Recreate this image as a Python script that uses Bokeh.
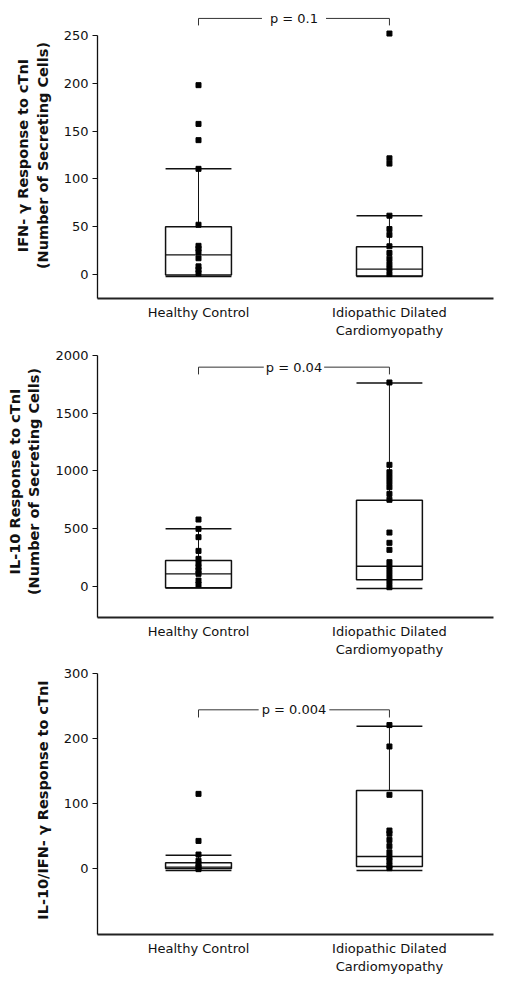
from bokeh.plotting import figure
from bokeh.layouts import column
from bokeh.models import Range1d, FixedTicker, Label
from bokeh.embed import file_html
from bokeh.resources import INLINE

groups = ["Healthy Control", "Idiopathic Dilated\nCardiomyopathy"]

# Panel 1: IFN-gamma response (number of secreting cells)
ifn_lo = [-2, -2]
ifn_q1 = [-0.5, -1.5]
ifn_med = [20.5, 5.6]
ifn_q3 = [50, 29]
ifn_hi = [110.5, 61.5]
ifn_pts_hc = [198, 157.5, 140.5, 110.5, 52, 30, 27, 23.5, 17, 8.5, 5, 1.5]
ifn_pts_idc = [252, 121.5, 116, 61.5, 47.5, 41.5, 29.5, 22.5, 16.5, 11, 6, 0.5]
ifn_ticks = [0, 50, 100, 150, 200, 250]
ifn_p = "p = 0.1"

# Panel 2: IL-10 response (number of secreting cells)
il10_lo = [-16, -20]
il10_q1 = [-14, 55]
il10_med = [107, 173]
il10_q3 = [222, 745]
il10_hi = [497, 1762]
il10_pts_hc = [578, 497, 425, 306, 237, 199, 165, 136, 107, 49, 14]
il10_pts_idc = [1766, 1052, 988, 945, 902, 858, 800, 749, 465, 376, 315,
                208, 165, 121, 78, 35, -9]
il10_ticks = [0, 500, 1000, 1500, 2000]
il10_p = "p = 0.04"

# Panel 3: IL-10 / IFN-gamma ratio
ratio_lo = [-3, -3]
ratio_q1 = [0, 3]
ratio_med = [2, 18.5]
ratio_q3 = [9, 120]
ratio_hi = [20.5, 219]
ratio_pts_hc = [115, 42.5, 21.5, 12, 7, 2, -1]
ratio_pts_idc = [221, 188, 113.5, 58.5, 53.5, 44, 34.5, 25, 17.5, 11.5, 4.5, 0.5]
ratio_ticks = [0, 100, 200, 300]
ratio_p = "p = 0.004"

FONT = "DejaVu Sans"
INK = "#111111"
BOX_W = 0.345


def make_panel(title, lo, q1, med, q3, hi, pts, ticks, ptext, yr, height,
               btop, bbot, bracket_y, bracket_leg, pad):
    xs = list(range(len(groups)))
    p = figure(width=498, height=height, output_backend="svg",
               toolbar_location=None, x_range=Range1d(-0.529, 1.545),
               y_range=Range1d(*yr), min_border_left=97, min_border_right=5,
               min_border_top=btop, min_border_bottom=bbot)
    p.outline_line_color = None
    p.xgrid.visible = False
    p.ygrid.visible = False
    p.background_fill_color = "white"
    p.border_fill_color = "white"

    # y axis
    yax = p.yaxis[0]
    yax.ticker = FixedTicker(ticks=ticks)
    yax.bounds = (yr[0], ticks[-1])
    yax.major_tick_out = 5
    yax.major_tick_in = 0
    yax.minor_tick_line_color = None
    yax.axis_line_width = 1.3
    yax.axis_line_color = INK
    yax.major_tick_line_color = INK
    yax.major_label_text_font = FONT
    yax.major_label_text_font_size = "13px"
    yax.major_label_text_color = INK
    yax.major_label_standoff = 4
    yax.axis_label = title
    yax.axis_label_text_font = FONT
    yax.axis_label_text_font_size = "14.5px"
    yax.axis_label_text_font_style = "bold"
    yax.axis_label_text_color = INK
    yax.axis_label_standoff = 10

    # x axis
    xax = p.xaxis[0]
    xax.ticker = FixedTicker(ticks=xs)
    xax.major_label_overrides = {x: g for x, g in zip(xs, groups)}
    xax.major_tick_line_color = None
    xax.major_tick_out = 0
    xax.major_tick_in = 0
    xax.minor_tick_line_color = None
    xax.minor_tick_out = 0
    xax.axis_line_width = 2
    xax.axis_line_color = "#222222"
    xax.major_label_text_font = FONT
    xax.major_label_text_font_size = "13px"
    xax.major_label_text_color = INK
    xax.major_label_standoff = 6

    left = [x - BOX_W / 2 for x in xs]
    right = [x + BOX_W / 2 for x in xs]

    # whiskers
    p.segment(x0=xs, y0=q3, x1=xs, y1=hi, line_color=INK, line_width=1)
    p.segment(x0=xs, y0=lo, x1=xs, y1=q1, line_color=INK, line_width=1)
    p.segment(x0=left, y0=hi, x1=right, y1=hi, line_color=INK, line_width=1.5)
    p.segment(x0=left, y0=lo, x1=right, y1=lo, line_color=INK, line_width=1.5)
    # boxes
    p.quad(left=left, right=right, bottom=q1, top=q3, fill_color=None,
           line_color=INK, line_width=1.5)
    p.segment(x0=left, y0=med, x1=right, y1=med, line_color=INK, line_width=1.3)

    # points
    for x, vals in zip(xs, pts):
        p.scatter(x=[x] * len(vals), y=vals, marker="square", size=5,
                  color="black")

    # significance bracket
    p.line(x=[xs[0], xs[0], xs[1], xs[1]],
           y=[bracket_leg, bracket_y, bracket_y, bracket_leg],
           line_color="#333333", line_width=1)
    lab = Label(x=(xs[0] + xs[1]) / 2, y=bracket_y, text=ptext,
                text_align="center", text_baseline="middle",
                text_font=FONT, text_font_size="13px", text_color=INK,
                background_fill_color="white", padding=pad)
    p.add_layout(lab)
    return p


p1 = make_panel("IFN- \u03b3 Response to cTnI\n(Number of Secreting Cells)",
                ifn_lo, ifn_q1, ifn_med, ifn_q3, ifn_hi,
                [ifn_pts_hc, ifn_pts_idc], ifn_ticks, ifn_p,
                (-25.1, 274), 340, 12, 42, 267.8, 260.5, 8)
p2 = make_panel("IL-10 Response to cTnI\n(Number of Secreting Cells)",
                il10_lo, il10_q1, il10_med, il10_q3, il10_hi,
                [il10_pts_hc, il10_pts_idc], il10_ticks, il10_p,
                (-271.5, 2086.7), 322, 5, 45, 1899, 1836, 2)
p3 = make_panel("IL-10/IFN- \u03b3 Response to cTnI",
                ratio_lo, ratio_q1, ratio_med, ratio_q3, ratio_hi,
                [ratio_pts_hc, ratio_pts_idc], ratio_ticks, ratio_p,
                (-101.7, 312.8), 318, 3, 46, 244.5, 232.7, 3)

layout = column(p1, p2, p3, spacing=0)
open("out.html", "w").write(file_html(layout, INLINE))
